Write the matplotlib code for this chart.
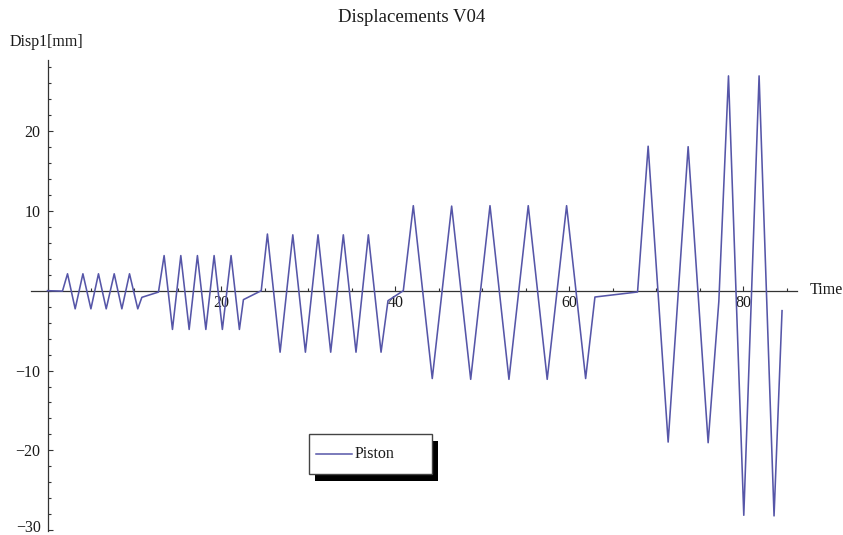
import matplotlib
matplotlib.use("Agg")
import matplotlib.pyplot as plt
from matplotlib.patches import Rectangle
from matplotlib.lines import Line2D
from matplotlib.ticker import FixedLocator, MultipleLocator
from matplotlib.transforms import ScaledTranslation

# ---- data (vertices) ----
time = [0.0, 1.72,
        2.30, 3.18, 4.07, 4.99, 5.86, 6.75, 7.67, 8.55, 9.43, 10.38,
        10.85, 12.76,
        13.41, 14.37, 15.33, 16.29, 17.24, 18.21, 19.16, 20.11, 21.11, 22.07,
        22.53, 24.58,
        25.29, 26.75, 28.21, 29.66, 31.11, 32.57, 34.02, 35.48, 36.90, 38.36,
        39.16, 40.92,
        42.07, 44.25, 46.48, 48.67, 50.89, 53.07, 55.29, 57.47, 59.70, 61.89,
        62.96, 67.86,
        69.08, 71.38, 73.68, 75.98, 77.21, 78.32, 80.08, 81.84, 83.56, 84.48]
disp = [0.0, -0.05,
        2.12, -2.27, 2.12, -2.27, 2.12, -2.27, 2.12, -2.27, 2.12, -2.27,
        -0.83, -0.17,
        4.4, -4.85, 4.4, -4.85, 4.4, -4.85, 4.4, -4.85, 4.4, -4.85,
        -1.12, 0.0,
        7.1, -7.7, 7.0, -7.7, 7.0, -7.7, 7.0, -7.7, 7.0, -7.7,
        -1.25, 0.0,
        10.65, -11.0, 10.6, -11.1, 10.65, -11.1, 10.65, -11.1, 10.65, -11.0,
        -0.79, -0.16,
        18.1, -18.96, 18.04, -19.04, -1.34, 26.91, -28.13, 26.91, -28.21, -2.5]

series_label = "Piston"
title = "Displacements V04"
x_label = "Time"
y_label = "Disp1[mm]"
x_major = [20, 40, 60, 80]
y_major = [-30, -20, -10, 10, 20]

W, H = 843, 535
LINE_COLOR = "#5656a8"
AXIS_COLOR = "#333333"
TEXT_COLOR = "#1a1a1a"

plt.rcParams["font.family"] = ["Liberation Serif", "DejaVu Serif"]

fig = plt.figure(figsize=(W / 100, H / 100), dpi=100)


def fx(px):
    return px / W


def fy(py):
    return 1 - py / H


ax = fig.add_axes([fx(31), fy(531), (797 - 31) / W, (531 - 60) / H])
ax.patch.set_alpha(0)
ax.set_xlim(-1.9, 86.2)
ax.set_ylim(-30.1, 28.9)

for s in ["top", "right"]:
    ax.spines[s].set_visible(False)
ax.spines["left"].set_position(("data", 0))
ax.spines["bottom"].set_position(("data", 0))
for s in ["left", "bottom"]:
    ax.spines[s].set_color(AXIS_COLOR)
    ax.spines[s].set_linewidth(0.9)

ax.xaxis.set_major_locator(FixedLocator(x_major))
ax.xaxis.set_minor_locator(MultipleLocator(5))
ax.yaxis.set_major_locator(FixedLocator(y_major))
ax.yaxis.set_minor_locator(MultipleLocator(2))
ax.tick_params(which="both", direction="in", color=AXIS_COLOR, width=0.8,
               labelcolor=TEXT_COLOR, labelsize=11.5)
ax.tick_params(which="major", length=3.4)
ax.tick_params(which="minor", length=2.0)
ax.tick_params(axis="x", pad=3)
ax.tick_params(axis="y", pad=5)

ax.plot(time, disp, color=LINE_COLOR, lw=1.15, zorder=3, label=series_label)

# lift the bottom y tick label so it stays inside the canvas
fig.canvas.draw()
for lbl in ax.get_yticklabels():
    if lbl.get_position()[1] == min(y_major):
        lbl.set_transform(lbl.get_transform() +
                          ScaledTranslation(0, 4 / 100, fig.dpi_scale_trans))

# titles and axis labels
fig.text(fx(412), fy(18), title, ha="center", va="center", fontsize=13.5,
         color=TEXT_COLOR)
fig.text(fx(10), fy(42), y_label, ha="left", va="center", fontsize=11.5,
         color=TEXT_COLOR)
fig.text(fx(810), fy(290), x_label, ha="left", va="center", fontsize=11.5,
         color=TEXT_COLOR)

# legend with hard shadow
lx0, ly0, lx1, ly1 = 309, 434.3, 431.7, 474.3
fig.add_artist(Rectangle((fx(lx0 + 6), fy(ly1 + 6.5)), (lx1 - lx0) / W,
                         (ly1 - ly0) / H, transform=fig.transFigure,
                         facecolor="black", edgecolor="black", lw=0,
                         zorder=5))
fig.add_artist(Rectangle((fx(lx0), fy(ly1)), (lx1 - lx0) / W,
                         (ly1 - ly0) / H, transform=fig.transFigure,
                         facecolor="white", edgecolor="#444444", lw=1.0,
                         zorder=6))
fig.add_artist(Line2D([fx(316), fx(351.7)], [fy(454.3), fy(454.3)],
                      transform=fig.transFigure, color=LINE_COLOR, lw=1.1,
                      zorder=7))
fig.add_artist(plt.Text(fx(355), fy(454.3), series_label, ha="left",
                        va="center", fontsize=11.5, color=TEXT_COLOR,
                        transform=fig.transFigure, zorder=7))

fig.savefig("out.png", dpi=100)
